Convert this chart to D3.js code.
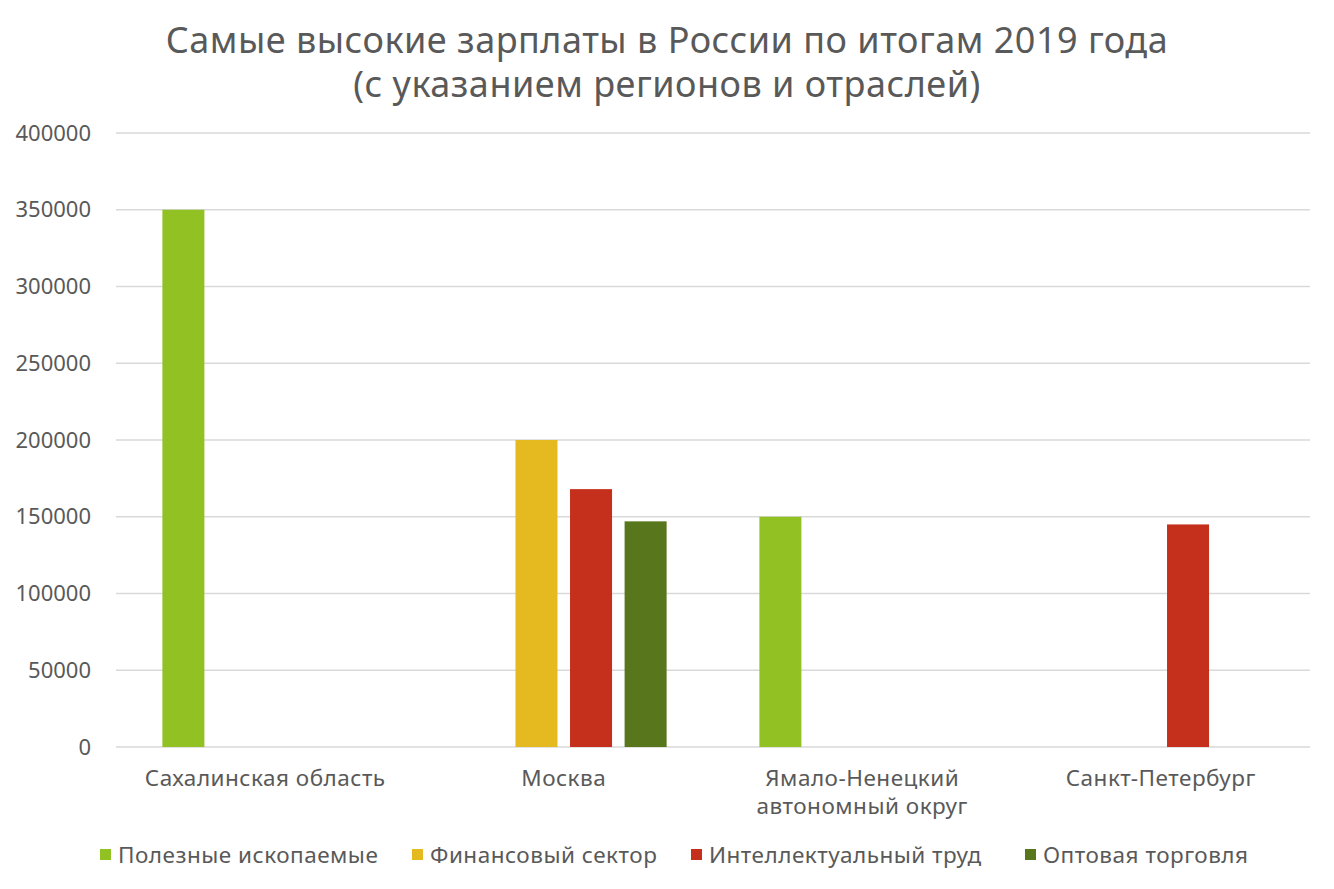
<!DOCTYPE html>
<html>
<head>
<meta charset="utf-8">
<title>Зарплаты 2019</title>
<script src="https://d3js.org/d3.v7.min.js"></script>
<style>
  body { margin: 0; background: #fff; }
  svg text { font-family: "Noto Sans", "Open Sans", sans-serif; fill: #595959; }
</style>
</head>
<body>
<script>
// data
const regions = ["Сахалинская область", "Москва", "Ямало-Ненецкий автономный округ", "Санкт-Петербург"];
const regionLines = [["Сахалинская область"], ["Москва"], ["Ямало-Ненецкий", "автономный округ"], ["Санкт-Петербург"]];
const seriesNames = ["Полезные ископаемые", "Финансовый сектор", "Интеллектуальный труд", "Оптовая торговля"];
const seriesColors = ["#92c124", "#e5b920", "#c4301b", "#58761b"];
// one array per series, value per region (null = no bar)
const mining = [350000, null, 150000, null];
const finance = [null, 200000, null, null];
const intellect = [null, 168000, null, 145000];
const wholesale = [null, 147000, null, null];
const yTicks = [0, 50000, 100000, 150000, 200000, 250000, 300000, 350000, 400000];
const titleLines = ["Самые высокие зарплаты в России по итогам 2019 года", "(с указанием регионов и отраслей)"];

const seriesValues = [mining, finance, intellect, wholesale];

const w = 1334, h = 889;
const plotLeft = 116, plotRight = 1310, plotTop = 133, plotBottom = 747;

const svg = d3.select("body").append("svg")
    .attr("width", w)
    .attr("height", h);

// title - one text, two lines
svg.append("text")
    .attr("x", 667).attr("y", 53)
    .attr("text-anchor", "middle")
    .style("font-size", "36px")
    .style("letter-spacing", "0.5px")
    .selectAll("tspan")
    .data(titleLines)
    .join("tspan")
    .attr("x", 667)
    .attr("dy", (d, i) => i === 0 ? 0 : 44)
    .text(d => d);

const y = d3.scaleLinear().domain([0, 400000]).range([plotBottom, plotTop]);
const x0 = d3.scaleBand().domain(regions).range([plotLeft, plotRight]);
const x1 = d3.scaleBand().domain(seriesNames)
    .range([0, x0.bandwidth()])
    .paddingInner(0.23)
    .paddingOuter(0.85);

// grid
svg.append("g")
    .selectAll("line")
    .data(yTicks)
    .join("line")
    .attr("x1", plotLeft).attr("x2", plotRight)
    .attr("y1", d => y(d)).attr("y2", d => y(d))
    .attr("stroke", "#d9d9d9")
    .attr("stroke-width", 1.5);

// y labels
const yAxis = d3.axisLeft(y).tickValues(yTicks).tickSize(0).tickPadding(0).tickFormat(d3.format("d"));
const gy = svg.append("g").attr("transform", "translate(91,0)").call(yAxis);
gy.select(".domain").remove();
gy.selectAll("text").style("font-size", "22px").attr("fill", "#595959");

// bars
const rows = [];
seriesValues.forEach((vals, s) => {
    vals.forEach((v, r) => {
        if (v != null) rows.push({ region: regions[r], series: seriesNames[s], value: v, color: seriesColors[s] });
    });
});

svg.append("g")
    .selectAll("rect")
    .data(rows)
    .join("rect")
    .attr("x", d => x0(d.region) + x1(d.series))
    .attr("y", d => y(d.value))
    .attr("width", x1.bandwidth())
    .attr("height", d => y(0) - y(d.value))
    .attr("fill", d => d.color);

// category labels
const cat = svg.append("g");
regions.forEach((r, i) => {
    const t = cat.append("text")
        .attr("x", x0(r) + x0.bandwidth() / 2)
        .attr("y", 786)
        .attr("text-anchor", "middle")
        .style("font-size", "22.5px")
        .style("letter-spacing", "0.5px");
    regionLines[i].forEach((line, j) => {
        t.append("tspan")
            .attr("x", x0(r) + x0.bandwidth() / 2)
            .attr("dy", j === 0 ? 0 : 28)
            .text(line);
    });
});

// legend
const legendX = [100, 412, 691, 1025];
const legend = svg.append("g");
seriesNames.forEach((s, i) => {
    legend.append("rect")
        .attr("x", legendX[i]).attr("y", 849)
        .attr("width", 11).attr("height", 11)
        .attr("fill", seriesColors[i]);
    legend.append("text")
        .attr("x", legendX[i] + 18).attr("y", 863)
        .style("font-size", "22.5px")
        .style("letter-spacing", "0.5px")
        .text(s);
});
</script>
</body>
</html>
